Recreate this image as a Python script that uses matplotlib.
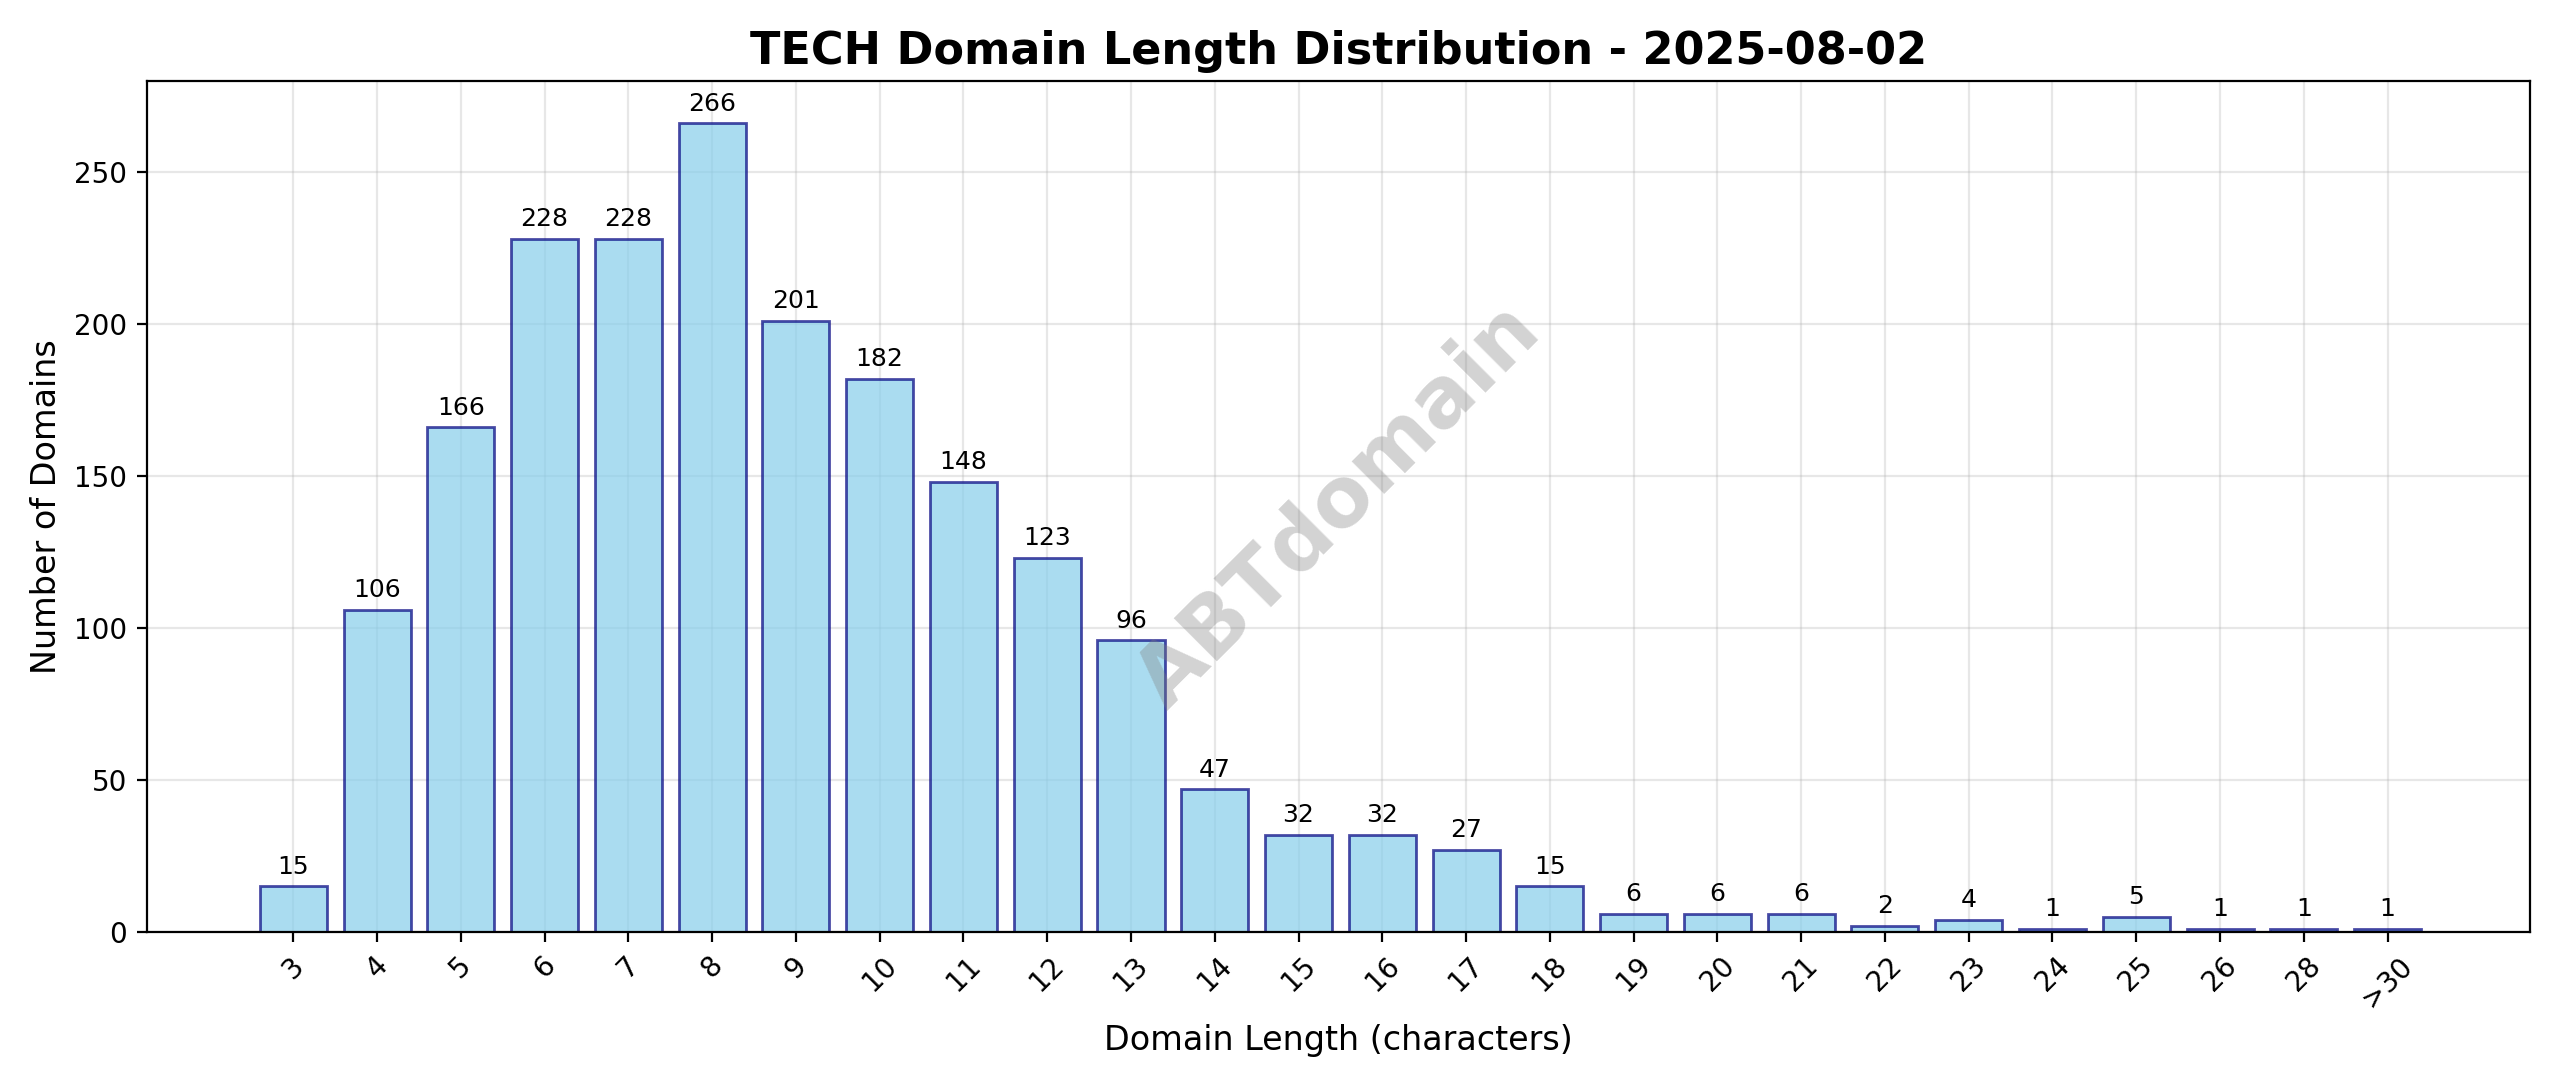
import matplotlib
matplotlib.use("Agg")
import matplotlib.pyplot as plt

lengths = ["3", "4", "5", "6", "7", "8", "9", "10", "11", "12", "13", "14", "15",
           "16", "17", "18", "19", "20", "21", "22", "23", "24", "25", "26", "28", ">30"]
counts = [15, 106, 166, 228, 228, 266, 201, 182, 148, 123, 96, 47, 32,
          32, 27, 15, 6, 6, 6, 2, 4, 1, 5, 1, 1, 1]

fig, ax = plt.subplots(figsize=(12.8, 5.435), dpi=200)
x = range(len(lengths))
bars = ax.bar(x, counts, width=0.8, color="skyblue", alpha=0.7,
              edgecolor="navy", linewidth=1)
for b, v in zip(bars, counts):
    ax.text(b.get_x() + b.get_width() / 2, v + 2.5, str(v),
            ha="center", va="bottom", fontsize=9)

ax.set_xticks(list(x))
ax.set_xticklabels(lengths, rotation=45)
ax.set_xlim(-1.75, len(lengths) + 0.7)
ax.set_ylim(0, 280)
ax.grid(True, alpha=0.3)
ax.set_axisbelow(True)
ax.set_title("TECH Domain Length Distribution - 2025-08-02", fontsize=16, fontweight="bold")
ax.set_xlabel("Domain Length (characters)", fontsize=12)
ax.set_ylabel("Number of Domains", fontsize=12)
ax.text(0.5, 0.5, "ABTdomain", transform=ax.transAxes, fontsize=30,
        color="gray", alpha=0.35, rotation=45, ha="center", va="center",
        fontweight="bold")

fig.tight_layout()
fig.savefig("out.png", dpi=200)
